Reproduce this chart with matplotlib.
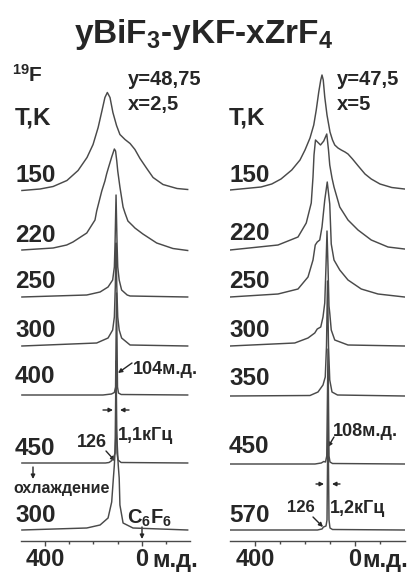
import matplotlib
matplotlib.use("Agg")
import matplotlib.pyplot as plt

plt.rcParams['font.family'] = ['Liberation Sans', 'DejaVu Sans']
plt.rcParams['font.weight'] = 'bold'
plt.rcParams['mathtext.fontset'] = 'custom'
plt.rcParams['mathtext.rm'] = 'Liberation Sans:bold'
plt.rcParams['mathtext.bf'] = 'Liberation Sans:bold'
plt.rcParams['mathtext.it'] = 'Liberation Sans:bold'

# ---------------- data (chemical shift, ppm ; intensity, arbitrary units) -------------
left_temps = ["150", "220", "250", "300", "400", "450", "300"]
right_temps = ["150", "220", "250", "300", "350", "450", "570"]

# left panel: y=48,75 x=2,5
L150_ppm = [495, 420, 366, 309, 263, 226, 201, 180, 164, 152, 142, 131, 119, 104, 90, 69, 48, 28, 7, -21, -47, -88, -146, -190]
L150_int = [0, 1.5, 4, 10, 20, 33, 46, 63, 80, 93, 98, 93, 78, 65, 56, 51, 47, 41, 32, 22, 13, 6, 2, 1]
L220_ppm = [495, 366, 310, 284, 227, 193, 186, 165, 152, 145, 139, 124, 113, 108, 103, 99, 90, 77, 69, 57, 36, 28, -5, -62, -129, -190]
L220_int = [1, 3, 6, 9, 18, 31, 40, 60, 70, 77, 82, 94, 102, 100, 90, 80, 64, 44, 38, 30, 25, 23, 17, 8, 2.5, 0.5]
L250_ppm = [495, 227, 172, 139, 120, 113, 110, 106, 102, 99, 93, 83, 60, 48, -190]
L250_int = [0, 2, 5, 10, 17, 30, 55, 102, 55, 30, 17, 7, 2, 1, 0]
L300_ppm = [495, 186, 139, 120, 113, 109, 106, 103, 99, 93, 83, 48, -190]
L300_int = [0, 3, 8, 16, 29, 60, 103, 60, 29, 16, 8, 1, 0]
L400_ppm = [495, 160, 125, 113, 108, 104, 100, 96, 85, -190]
L400_int = [0, 0, 1, 2.5, 8, 102, 8, 2, 0.5, 0]
L450_ppm = [495, 150, 135, 126, 118, 110, 106, 102, 98, 85, -190]
L450_int = [0, 0, 0.5, 2, 4, 10, 102, 10, 3, 0.5, 0]
L300c_ppm = [495, 227, 172, 139, 124, 117, 113, 109, 105, 101, 97, 93, 90, 77, 36, -190]
L300c_int = [0, 2, 5, 12, 28, 52, 65, 85, 102, 85, 65, 52, 25, 7, 2, 0]

# right panel: y=47,5 x=5
R150_ppm = [500, 376, 333, 296, 253, 220, 200, 180, 165, 155, 145, 137, 132, 127, 121, 112, 100, 90, 81, 68, 55, 40, 28, 10, -13, -40, -65, -100, -147, -198]
R150_int = [0, 3, 6, 11, 20, 30, 40, 52, 65, 80, 98, 110, 115, 110, 93, 75, 58, 50, 45, 42, 40, 38, 36, 31, 24, 16, 11, 6, 2.5, 1]
R220_ppm = [500, 308, 228, 195, 175, 168, 164, 158, 150, 138, 125, 113, 106, 101, 92, 84, 61, 28, -12, -65, -132, -198]
R220_int = [0, 5, 13, 27, 47, 73, 95, 110, 108, 105, 109, 116, 100, 85, 72, 63, 43, 30, 20, 10, 3, 1]
R250_ppm = [500, 308, 228, 188, 168, 159, 151, 141, 132, 121, 111, 101, 95, 84, 61, 28, -25, -92, -198]
R250_int = [0, 3, 8, 20, 37, 52, 55, 57, 70, 97, 115, 93, 53, 37, 27, 17, 8, 3, 0]
R300_ppm = [500, 241, 188, 161, 151, 137, 128, 121, 116, 112, 108, 104, 101, 95, 81, 28, -198]
R300_int = [0, 3, 8, 13, 17, 19, 29, 43, 80, 115, 80, 40, 33, 16, 6, 1, 0]
R350_ppm = [500, 180, 148, 128, 119, 114, 110, 106, 101, 92, 70, -198]
R350_int = [0, 0.5, 4, 11, 19, 50, 115, 50, 16, 4, 1, 0]
R450_ppm = [500, 160, 135, 125, 118, 113, 108, 104, 100, 90, -198]
R450_int = [0, 0, 1, 2.5, 2, 8, 115, 8, 2, 0.5, 0]
R570_ppm = [500, 150, 132, 126, 116, 112, 108, 104, 100, 90, -198]
R570_int = [0, 0, 1, 3, 4, 10, 115, 10, 2, 0.5, 0]

left_series = [(L150_ppm, L150_int), (L220_ppm, L220_int), (L250_ppm, L250_int), (L300_ppm, L300_int),
               (L400_ppm, L400_int), (L450_ppm, L450_int), (L300c_ppm, L300c_int)]
right_series = [(R150_ppm, R150_int), (R220_ppm, R220_int), (R250_ppm, R250_int), (R300_ppm, R300_int),
                (R350_ppm, R350_int), (R450_ppm, R450_int), (R570_ppm, R570_int)]

major_ticks = [400, 0]
major_labels = ["400", "0"]
minor_ticks = [300, 200, 100, -100]

# ---------------- layout (pixel based) ----------------
W, H = 415, 573
AXIS_Y = 540.7
left_base_px = [190.5, 251, 297, 346, 395, 463, 530]
right_base_px = [190, 250, 297, 346, 396, 464, 530]
LINE = '#4a4a4a'
TXT = '#262626'

fig = plt.figure(figsize=(W / 100, H / 100), dpi=100)
fig.patch.set_facecolor('white')

ov = fig.add_axes([0, 0, 1, 1])
ov.set_xlim(0, W)
ov.set_ylim(H, 0)
ov.axis('off')


def make_panel(x0, x1, series, bases):
    ax = fig.add_axes([x0 / W, (H - AXIS_Y) / H, (x1 - x0) / W, AXIS_Y / H])
    ax.set_facecolor('none')
    ax.set_xlim(500, -200)
    ax.set_ylim(0, AXIS_Y)
    for (p, v), b in zip(series, bases):
        off = AXIS_Y - b
        ax.plot(p, [off + i for i in v], color=LINE, lw=1.05, solid_joinstyle='round')
    for s in ['left', 'right', 'top']:
        ax.spines[s].set_visible(False)
    ax.spines['bottom'].set_color(LINE)
    ax.spines['bottom'].set_linewidth(1.0)
    ax.set_yticks([])
    ax.set_xticks(major_ticks)
    ax.set_xticklabels(major_labels)
    ax.set_xticks(minor_ticks, minor=True)
    ax.tick_params(axis='x', which='major', direction='out', length=3.5, width=1, color=LINE,
                   labelsize=17, labelcolor=TXT, pad=2.0)
    ax.tick_params(axis='x', which='minor', direction='out', length=2, width=1, color=LINE)
    return ax


axL = make_panel(20.7, 190.1, left_series, left_base_px)
axR = make_panel(230, 405, right_series, right_base_px)


def T(x, y, s, size, ha='left', va='baseline', **kw):
    ov.text(x, y, s, fontsize=size, ha=ha, va=va, color=TXT, fontweight='bold', **kw)


# title
T(204, 43, r'yBiF$_{3}$-yKF-xZrF$_{4}$', 24, ha='center')

# left labels
T(12, 82, r'$^{19}$F', 15)
T(15, 125, 'T,K', 17.5)
left_lab_y = [182, 241.5, 288, 337, 383, 455, 522]
for s, y in zip(left_temps, left_lab_y):
    T(15, y, s, 17.5)
T(128, 85, 'y=48,75', 14.5)
T(128, 110, 'x=2,5', 14.5)

# right labels
T(229, 125, 'T,K', 17.5)
right_lab_y = [182, 240, 288, 337, 385, 453, 522]
for s, y in zip(right_temps, right_lab_y):
    T(229, y, s, 17.5)
T(337, 85, 'y=47,5', 14.5)
T(337, 110, 'x=5', 14.5)

# units after zero
T(152, 567, 'м.д.', 17)
T(362, 567, 'м.д.', 17)

# annotations left
T(133, 374, '104м.д.', 13)
ov.annotate('', xy=(118, 373), xytext=(132, 363),
            arrowprops=dict(arrowstyle='-|>', color=TXT, lw=1, mutation_scale=6, shrinkA=0, shrinkB=0))
T(118, 440, '1,1кГц', 13)
ov.annotate('', xy=(113, 410), xytext=(103, 410),
            arrowprops=dict(arrowstyle='-|>', color=TXT, lw=1, mutation_scale=6, shrinkA=0, shrinkB=0))
ov.annotate('', xy=(120, 410), xytext=(129, 410),
            arrowprops=dict(arrowstyle='-|>', color=TXT, lw=1, mutation_scale=6, shrinkA=0, shrinkB=0))
T(77, 447, '126', 13)
ov.annotate('', xy=(115, 461), xytext=(106, 451),
            arrowprops=dict(arrowstyle='-|>', color=TXT, lw=1, mutation_scale=6, shrinkA=0, shrinkB=0))
ov.annotate('', xy=(33, 479), xytext=(33, 467),
            arrowprops=dict(arrowstyle='-|>', color=TXT, lw=1, mutation_scale=6, shrinkA=0, shrinkB=0))
T(13, 493, 'охлаждение', 11.5)
T(127, 524, r'C$_{6}$F$_{6}$', 14.5)
ov.annotate('', xy=(142, 539), xytext=(142, 527),
            arrowprops=dict(arrowstyle='-|>', color=TXT, lw=1, mutation_scale=6, shrinkA=0, shrinkB=0))

# annotations right
T(333, 436, '108м.д.', 13)
ov.annotate('', xy=(328, 447), xytext=(334, 437),
            arrowprops=dict(arrowstyle='-|>', color=TXT, lw=1, mutation_scale=6, shrinkA=0, shrinkB=0))
T(330, 513, '1,2кГц', 13)
ov.annotate('', xy=(324, 484), xytext=(316, 484),
            arrowprops=dict(arrowstyle='-|>', color=TXT, lw=1, mutation_scale=6, shrinkA=0, shrinkB=0))
ov.annotate('', xy=(332, 484), xytext=(340, 484),
            arrowprops=dict(arrowstyle='-|>', color=TXT, lw=1, mutation_scale=6, shrinkA=0, shrinkB=0))
T(287, 512, '126', 12)
ov.annotate('', xy=(323, 527), xytext=(313, 517),
            arrowprops=dict(arrowstyle='-|>', color=TXT, lw=1, mutation_scale=6, shrinkA=0, shrinkB=0))

fig.savefig('out.png', dpi=100, facecolor='white')
